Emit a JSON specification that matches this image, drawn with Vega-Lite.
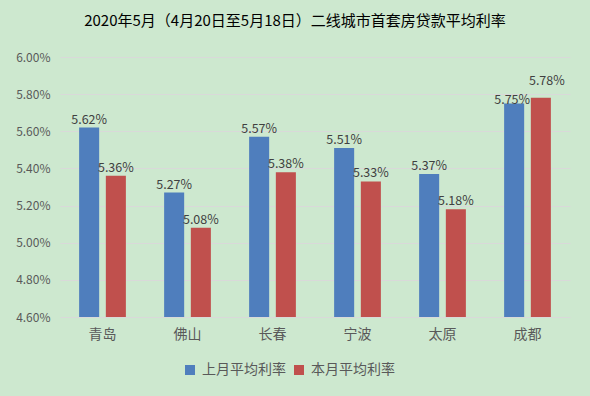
{
  "$schema": "https://vega.github.io/schema/vega-lite/v6.json",
  "width": 510,
  "height": 260,
  "autosize": {"type": "none"},
  "padding": {"left": 60, "top": 57, "right": 20, "bottom": 79},
  "background": "#cde8cf",
  "config": {
    "view": {"stroke": null},
    "font": "Noto Sans CJK SC"
  },
  "title": {
    "text": "2020年5月（4月20日至5月18日）二线城市首套房贷款平均利率",
    "fontSize": 15,
    "fontWeight": "normal",
    "color": "#000000",
    "font": "Noto Sans CJK SC",
    "anchor": "middle",
    "dx": -20,
    "offset": 22
  },
  "data": {
    "values": [
      {"city": "青岛", "series": "上月平均利率", "rate": 0.0562},
      {"city": "青岛", "series": "本月平均利率", "rate": 0.0536},
      {"city": "佛山", "series": "上月平均利率", "rate": 0.0527},
      {"city": "佛山", "series": "本月平均利率", "rate": 0.0508},
      {"city": "长春", "series": "上月平均利率", "rate": 0.0557},
      {"city": "长春", "series": "本月平均利率", "rate": 0.0538},
      {"city": "宁波", "series": "上月平均利率", "rate": 0.0551},
      {"city": "宁波", "series": "本月平均利率", "rate": 0.0533},
      {"city": "太原", "series": "上月平均利率", "rate": 0.0537},
      {"city": "太原", "series": "本月平均利率", "rate": 0.0518},
      {"city": "成都", "series": "上月平均利率", "rate": 0.0575},
      {"city": "成都", "series": "本月平均利率", "rate": 0.0578}
    ]
  },
  "encoding": {
    "x": {
      "field": "city",
      "type": "nominal",
      "sort": null,
      "scale": {"paddingInner": 0.45, "paddingOuter": 0.225},
      "axis": {
        "title": null,
        "labelAngle": 0,
        "labelFontSize": 14,
        "labelColor": "#595959",
        "labelPadding": 10,
        "domain": false,
        "ticks": false
      }
    },
    "xOffset": {
      "field": "series",
      "type": "nominal",
      "sort": ["上月平均利率", "本月平均利率"],
      "scale": {"paddingInner": 0.25}
    },
    "y": {
      "field": "rate",
      "type": "quantitative",
      "scale": {"domain": [0.046, 0.06], "zero": false, "nice": false},
      "axis": {
        "title": null,
        "format": ".2%",
        "values": [0.046, 0.048, 0.05, 0.052, 0.054, 0.056, 0.058, 0.06],
        "labelFontSize": 12,
        "labelColor": "#595959",
        "labelPadding": 10,
        "domain": false,
        "ticks": false,
        "gridColor": "#d9d9d9",
        "gridWidth": 1
      }
    }
  },
  "layer": [
    {
      "mark": {"type": "bar", "clip": true},
      "encoding": {
        "color": {
          "field": "series",
          "type": "nominal",
          "sort": ["上月平均利率", "本月平均利率"],
          "scale": {"range": ["#4f7ebd", "#c0504d"]},
          "legend": {
            "title": null,
            "orient": "none",
            "direction": "horizontal",
            "legendX": 123,
            "legendY": 306,
            "symbolType": "square",
            "symbolSize": 100,
            "symbolStrokeWidth": 0,
            "labelFontSize": 14,
            "labelColor": "#595959",
            "columnPadding": 6,
            "labelOffset": 5
          }
        }
      }
    },
    {
      "transform": [{"filter": "datum.city !== '成都'"}],
      "mark": {"type": "text", "dy": -8, "fontSize": 12.5, "color": "#404040"},
      "encoding": {
        "text": {"field": "rate", "type": "quantitative", "format": ".2%"}
      }
    },
    {
      "transform": [{"filter": "datum.city === '成都' && datum.series === '上月平均利率'"}],
      "mark": {"type": "text", "dy": -3, "dx": -2, "fontSize": 12.5, "color": "#404040"},
      "encoding": {
        "text": {"field": "rate", "type": "quantitative", "format": ".2%"}
      }
    },
    {
      "transform": [{"filter": "datum.city === '成都' && datum.series === '本月平均利率'"}],
      "mark": {"type": "text", "dy": -17, "dx": 6, "fontSize": 12.5, "color": "#404040"},
      "encoding": {
        "text": {"field": "rate", "type": "quantitative", "format": ".2%"}
      }
    }
  ]
}
